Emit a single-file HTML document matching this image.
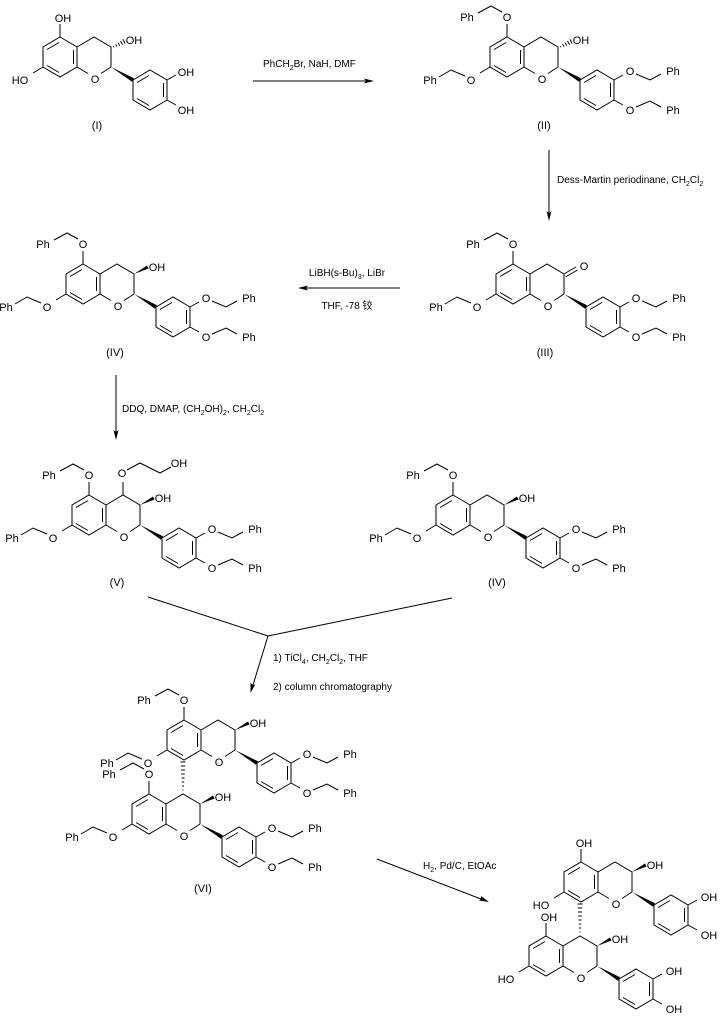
<!DOCTYPE html>
<html><head><meta charset="utf-8"><style>
html,body{margin:0;padding:0;background:#fff}
svg{display:block}
text{font-family:"Liberation Sans","Noto Sans CJK SC",sans-serif;font-size:11px;fill:#000;text-anchor:middle}
.r text,text.r{font-size:10px;text-anchor:start}
</style></head><body>
<svg width="723" height="1021" viewBox="0 0 723 1021" xmlns="http://www.w3.org/2000/svg">
<defs>
<g id="core" stroke="#000" stroke-width="1" fill="none">
<path d="M60 37 L77 47 L77 67 L60 77 L43 67 L43 47 Z"/>
<path d="M47 49.5 L59 42.5 M73.5 50 L73.5 64 M59 72.5 L47 65.5"/>
<path d="M77 47 L94 37 L111 47 L111 67 M111 67 L101 73.5 M77 67 L88 73.5"/>
<path d="M133 80 L150 70 L167 80 L167 100 L150 110 L133 100 Z"/>
<path d="M137 82.5 L149 75.5 M163.5 83 L163.5 97 M149 105.5 L137 98.5"/>
<polygon points="111,67 134,78.3 132,81.7" fill="#000" stroke="none"/>
<path d="M43 67 L33 73 M167 80 L176 75 M167 100 L176 105"/>
</g>
<g id="c5" stroke="#000" fill="none"><path d="M60 37 L60 24"/></g>
<g id="bn5" stroke="#000" fill="none"><path d="M55 12 L44 6 L31 13"/></g>
<g id="bn7" stroke="#000" fill="none"><path d="M18 76 L4 70 L-8 77"/></g>
<g id="bn34" stroke="#000" fill="none"><path d="M189 74 L203 80 L214 74 M189 107 L203 101 L214 107"/></g>
<polygon id="wedge3" points="111,47 124,38.5 125.5,41.5" fill="#000"/>
<g id="hash3" stroke="#000" stroke-width="1"><path d="M113.3 46.2 L113.9 47.3 M115.7 44.3 L116.9 46.5 M118.1 42.6 L119.7 45.6 M120.5 41 L122.5 44.6 M122.9 39.3 L125.1 43.5"/></g>
<g id="hashv" stroke="#000" stroke-width="1"><path d="M93.5 33 L94.5 33 M93 29 L95 29 M92.8 25 L95.2 25 M92.5 21 L95.5 21 M92.3 17 L95.7 17 M92 13 L96 13 M91.8 9 L96.2 9 M91.5 5 L96.5 5"/></g>
</defs>

<!-- (I) -->
<g transform="translate(0,0)">
<use href="#core"/><use href="#c5"/><use href="#hash3"/>
<text x="95" y="83">O</text>
<text x="63" y="22">OH</text><text x="20" y="84">HO</text>
<text x="134" y="44">OH</text><text x="186" y="76">OH</text><text x="186" y="114">OH</text>
<text x="97" y="129">(I)</text>
</g>

<!-- arrow 1 -->
<line x1="253" y1="81" x2="366" y2="81" stroke="#000"/>
<polygon points="374,81 364,78.5 366,81 364,83.5" fill="#000"/>
<text class="r" x="263" y="67">PhCH<tspan font-size="7" dy="3">2</tspan><tspan dy="-3">Br, NaH, DMF</tspan></text>

<!-- (II) -->
<g transform="translate(447,0)">
<use href="#core"/><use href="#c5"/><use href="#hash3"/><use href="#bn5"/><use href="#bn7"/><use href="#bn34"/>
<text x="95" y="83">O</text>
<text x="60" y="21">O</text><text x="20" y="21">Ph</text>
<text x="24" y="84">O</text><text x="-17" y="84">Ph</text>
<text x="134" y="44">OH</text>
<text x="183" y="75">O</text><text x="226" y="75">Ph</text>
<text x="183" y="114">O</text><text x="226" y="114">Ph</text>
<text x="97" y="129">(II)</text>
</g>

<!-- arrow 2 -->
<line x1="549" y1="150" x2="549" y2="213" stroke="#000"/>
<polygon points="549,221 546.5,211 549,213 551.5,211" fill="#000"/>
<text class="r" x="557" y="183">Dess-Martin periodinane, CH<tspan font-size="7" dy="3">2</tspan><tspan dy="-3">Cl</tspan><tspan font-size="7" dy="3">2</tspan></text>

<!-- (III) -->
<g transform="translate(453,227)">
<use href="#core"/><use href="#c5"/><use href="#bn5"/><use href="#bn7"/><use href="#bn34"/>
<path d="M111 47 L123 40 M112.5 50 L124.5 43" stroke="#000"/>
<text x="95" y="83">O</text>
<text x="60" y="21">O</text><text x="20" y="21">Ph</text>
<text x="24" y="84">O</text><text x="-17" y="84">Ph</text>
<text x="131" y="43">O</text>
<text x="183" y="75">O</text><text x="226" y="75">Ph</text>
<text x="183" y="114">O</text><text x="226" y="114">Ph</text>
<text x="92" y="129">(III)</text>
</g>

<!-- arrow 3 -->
<line x1="400" y1="288" x2="306" y2="288" stroke="#000"/>
<polygon points="298,288 308,285.5 306,288 308,290.5" fill="#000"/>
<text x="347" y="276" style="font-size:10px">LiBH(s-Bu)<tspan font-size="7" dy="3">3</tspan><tspan dy="-3">, LiBr</tspan></text>
<text x="347" y="309" style="font-size:10px">THF, -78 铰</text>

<!-- (IV) -->
<g transform="translate(23,227)">
<use href="#core"/><use href="#c5"/><use href="#wedge3"/><use href="#bn5"/><use href="#bn7"/><use href="#bn34"/>
<text x="95" y="83">O</text>
<text x="60" y="21">O</text><text x="20" y="21">Ph</text>
<text x="24" y="84">O</text><text x="-17" y="84">Ph</text>
<text x="134" y="44">OH</text>
<text x="183" y="75">O</text><text x="226" y="75">Ph</text>
<text x="183" y="114">O</text><text x="226" y="114">Ph</text>
<text x="92" y="129">(IV)</text>
</g>

<!-- arrow 4 -->
<line x1="116" y1="375" x2="116" y2="432" stroke="#000"/>
<polygon points="116,440 113.5,430 116,432 118.5,430" fill="#000"/>
<text class="r" x="122" y="412">DDQ, DMAP, (CH<tspan font-size="7" dy="3">2</tspan><tspan dy="-3">OH)</tspan><tspan font-size="7" dy="3">2</tspan><tspan dy="-3">, CH</tspan><tspan font-size="7" dy="3">2</tspan><tspan dy="-3">Cl</tspan><tspan font-size="7" dy="3">2</tspan></text>

<!-- (V) -->
<g transform="translate(29,458)">
<use href="#core"/><use href="#c5"/><use href="#wedge3"/><use href="#bn5"/><use href="#bn7"/><use href="#bn34"/>
<path d="M94 37 L94 24 M98 12 L111 5 L131 15 L142 9" stroke="#000" fill="none"/>
<text x="95" y="83">O</text>
<text x="60" y="21">O</text><text x="20" y="21">Ph</text>
<text x="93" y="19">O</text><text x="150" y="9">OH</text>
<text x="24" y="84">O</text><text x="-17" y="84">Ph</text>
<text x="134" y="44">OH</text>
<text x="183" y="75">O</text><text x="226" y="75">Ph</text>
<text x="183" y="114">O</text><text x="226" y="114">Ph</text>
<text x="88" y="128">(V)</text>
</g>

<!-- (IV) second -->
<g transform="translate(393,458)">
<use href="#core"/><use href="#c5"/><use href="#wedge3"/><use href="#bn5"/><use href="#bn7"/><use href="#bn34"/>
<text x="95" y="83">O</text>
<text x="60" y="21">O</text><text x="20" y="21">Ph</text>
<text x="24" y="84">O</text><text x="-17" y="84">Ph</text>
<text x="134" y="44">OH</text>
<text x="183" y="75">O</text><text x="226" y="75">Ph</text>
<text x="183" y="114">O</text><text x="226" y="114">Ph</text>
<text x="104" y="128">(IV)</text>
</g>

<!-- merge arrow -->
<path d="M148 597 L268 636 L452 598" stroke="#000" fill="none"/>
<line x1="268" y1="636" x2="253" y2="685" stroke="#000"/>
<polygon points="250.5,693 250.5,683 253,685 255.3,684.5" fill="#000"/>
<text class="r" x="273" y="661">1) TiCl<tspan font-size="7" dy="3">4</tspan><tspan dy="-3">, CH</tspan><tspan font-size="7" dy="3">2</tspan><tspan dy="-3">Cl</tspan><tspan font-size="7" dy="3">2</tspan><tspan dy="-3">, THF</tspan></text>
<text class="r" x="273" y="690">2) column chromatography</text>

<!-- (VI) upper -->
<g transform="translate(124,683)">
<use href="#core"/><use href="#c5"/><use href="#wedge3"/><use href="#bn5"/><use href="#bn7"/><use href="#bn34"/>
<text x="95" y="83">O</text>
<text x="60" y="21">O</text><text x="20" y="21">Ph</text>
<text x="24" y="84">O</text><text x="-17" y="84">Ph</text>
<text x="134" y="44">OH</text>
<text x="183" y="75">O</text><text x="226" y="75">Ph</text>
<text x="183" y="114">O</text><text x="226" y="114">Ph</text>
</g>
<!-- (VI) lower -->
<g transform="translate(89,757)">
<use href="#core"/><use href="#c5"/><use href="#wedge3"/><use href="#bn5"/><use href="#bn7"/><use href="#bn34"/><use href="#hashv"/>
<text x="95" y="83">O</text>
<text x="60" y="21">O</text><text x="20" y="21">Ph</text>
<text x="24" y="84">O</text><text x="-17" y="84">Ph</text>
<text x="134" y="44">OH</text>
<text x="183" y="75">O</text><text x="226" y="75">Ph</text>
<text x="183" y="114">O</text><text x="226" y="114">Ph</text>
<text x="114" y="135">(VI)</text>
</g>

<!-- arrow 6 -->
<line x1="377" y1="859" x2="481" y2="899" stroke="#000"/>
<polygon points="489,902 479,900.5 481,899 481,896" fill="#000"/>
<text class="r" x="423" y="869">H<tspan font-size="7" dy="3">2</tspan><tspan dy="-3">, Pd/C, EtOAc</tspan></text>

<!-- final upper -->
<g transform="translate(521,825)">
<use href="#core"/><use href="#c5"/><use href="#wedge3"/>
<text x="95" y="83">O</text>
<text x="63" y="22">OH</text><text x="20" y="84">HO</text>
<text x="134" y="44">OH</text><text x="188" y="76">OH</text><text x="188" y="114">OH</text>
</g>
<!-- final lower -->
<g transform="translate(486,899)">
<use href="#core"/><use href="#c5"/><use href="#wedge3"/><use href="#hashv"/>
<text x="95" y="83">O</text>
<text x="63" y="22">OH</text><text x="20" y="84">HO</text>
<text x="134" y="44">OH</text><text x="188" y="76">OH</text><text x="188" y="114">OH</text>
</g>
</svg>
</body></html>
